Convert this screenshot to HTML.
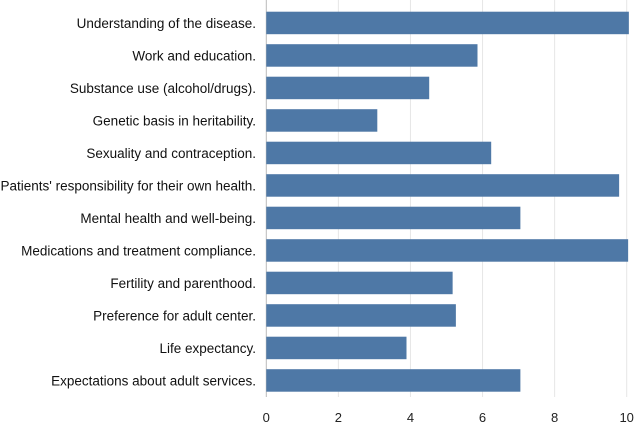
<!DOCTYPE html>
<html><head><meta charset="utf-8"><style>
html,body{margin:0;padding:0;background:#fff;}
svg{display:block;font-family:"Liberation Sans",Arial,sans-serif;}
</style></head><body>
<svg id="chart" width="644" height="427"></svg>
<script>
const categories=["Understanding of the disease.","Work and education.","Substance use (alcohol/drugs).","Genetic basis in heritability.","Sexuality and contraception.","Patients' responsibility for their own health.","Mental health and well-being.","Medications and treatment compliance.","Fertility and parenthood.","Preference for adult center.","Life expectancy.","Expectations about adult services."];
const values=[10.06,5.86,4.52,3.08,6.24,9.79,7.05,10.04,5.17,5.26,3.89,7.05];
const ticks=[0,2,4,6,8,10];
const NS="http://www.w3.org/2000/svg";
const svg=document.getElementById('chart');
const x0=266.3,pxPer=36.04,top0=6.7,band=32.5,barH=22.5;
const xs=v=>x0+v*pxPer;
function mk(t,a){const e=document.createElementNS(NS,t);for(const k in a)e.setAttribute(k,a[k]);svg.appendChild(e);return e;}
ticks.forEach(t=>{
  const g=mk('line',{x1:xs(t),x2:xs(t),y1:0,y2:397,stroke:t===0?'#bbb':'#e6e6e6','stroke-width':1});
  
  
  const tl=mk('text',{x:xs(t),y:422,'text-anchor':'middle','font-size':13,fill:'#222'});
  tl.textContent=t;
  
  
});
categories.forEach((c,i)=>{
  const y=top0+i*band+(band-barH)/2;
  const r=mk('rect',{x:xs(0),y:y,width:xs(values[i])-xs(0),height:barH,fill:'#4e78a6'});
  
  
  const l=mk('text',{x:256,y:y+barH/2+5,'text-anchor':'end','font-size':13.5,fill:'#111'});
  l.textContent=c;
  
  
});
</script>
</body></html>
